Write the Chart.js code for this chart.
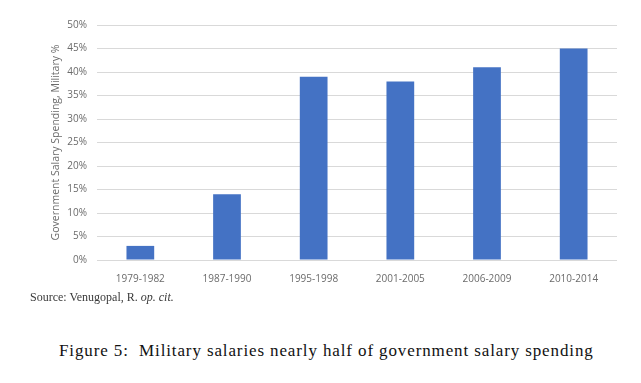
<!DOCTYPE html>
<html>
<head>
<meta charset="utf-8">
<script src="https://cdn.jsdelivr.net/npm/chart.js@4"></script>
<style>
  html, body { margin: 0; padding: 0; background: #fff; }
  #wrap { position: relative; width: 641px; height: 383px; overflow: hidden; }
  #c { position: absolute; left: 0; top: 0; }
  #source { position: absolute; left: 30px; top: 290px; font-family: "Liberation Serif", serif; font-size: 12px; color: #3a3a3a; white-space: nowrap; }
  #caption { position: absolute; left: 59px; top: 341px; font-family: "Liberation Serif", serif; font-size: 17px; letter-spacing: 0.88px; color: #111; white-space: nowrap; }
</style>
</head>
<body>
<div id="wrap">
  <canvas id="c" width="641" height="300"></canvas>
  <div id="source">Source: Venugopal, R. <i>op. cit.</i></div>
  <div id="caption">Figure 5:&nbsp; Military salaries nearly half of government salary spending</div>
</div>
<script>
const categories = ["1979-1982", "1987-1990", "1995-1998", "2001-2005", "2006-2009", "2010-2014"];
const militaryShare = [3, 14, 39, 38, 41, 45];
const yTicks = [0, 5, 10, 15, 20, 25, 30, 35, 40, 45, 50];
const yTitle = "Government Salary Spending, Military %";

const tickFont = { family: "Open Sans", size: 10 };
const titleFont = { family: "Open Sans", size: 10.5 };
const tickColor = "#6b6b6b";

new Chart(document.getElementById("c"), {
  type: "bar",
  data: {
    labels: categories,
    datasets: [{
      data: militaryShare,
      backgroundColor: "#4472C4",
      borderWidth: 0,
      barPercentage: 0.32,
      categoryPercentage: 1.0
    }]
  },
  options: {
    responsive: false,
    animation: false,
    layout: { padding: { left: 0, right: 24, top: 25, bottom: 0 } },
    plugins: { legend: { display: false }, tooltip: { enabled: false } },
    scales: {
      x: {
        grid: { display: false, drawTicks: false },
        border: { display: false },
        ticks: { font: tickFont, color: tickColor, padding: 13, maxRotation: 0 },
        afterFit: s => { s.height = 40; }
      },
      y: {
        min: 0, max: 50,
        afterBuildTicks: s => { s.ticks = yTicks.map(v => ({ value: v })); },
        grid: { color: "#d9d9d9", lineWidth: 1, drawTicks: false },
        border: { display: false },
        ticks: { font: tickFont, color: tickColor, padding: 10, callback: v => v + "%" },
        title: { display: true, text: yTitle, font: titleFont, color: tickColor, padding: { top: 50, bottom: 0 } },
        afterFit: s => { s.width = 97; }
      }
    }
  }
});
</script>
</body>
</html>
